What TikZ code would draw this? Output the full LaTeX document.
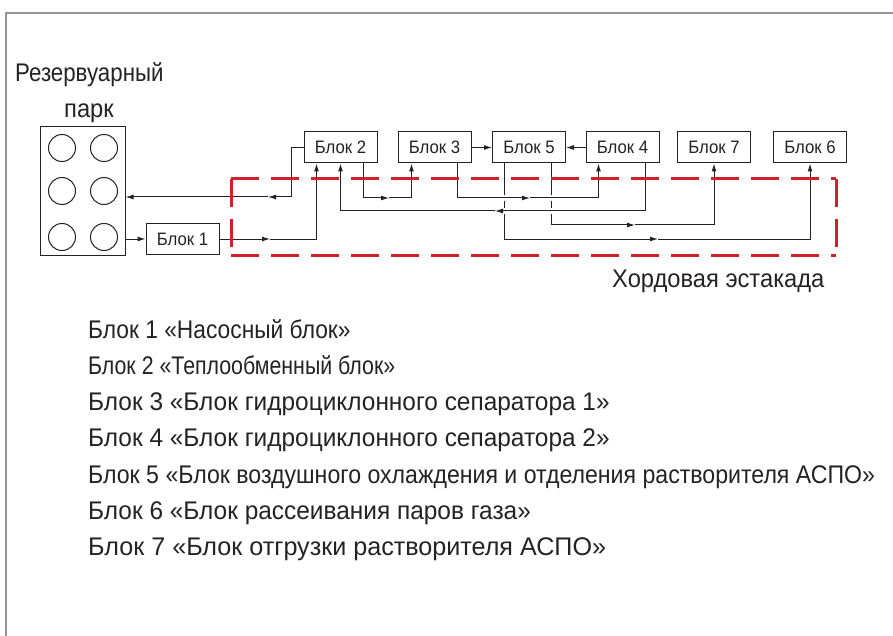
\documentclass[tikz,border=0pt]{standalone}
\usepackage{fontspec}
\setmainfont[FakeStretch=0.93]{Liberation Sans}
\usetikzlibrary{arrows.meta}
\pgfdeclarelayer{bg}\pgfsetlayers{bg,main}
\definecolor{ink}{RGB}{35,35,35}
\definecolor{trestle}{RGB}{210,32,40}
\definecolor{framegray}{RGB}{150,150,150}
\begin{document}
\begin{tikzpicture}[x=1pt,y=-1pt,
  blk/.style={draw=ink, line width=1pt, minimum width=73pt, minimum height=31pt, inner sep=0pt,
              font=\fontsize{18}{20}\selectfont, text=ink},
  tank/.style={circle, draw=ink, line width=1pt, minimum size=27pt, inner sep=0pt},
  wire/.style={line width=1pt, draw=ink},
  arr/.style={wire, -{Latex[length=8pt,width=5pt]}},
  bridge/.style={preaction={draw=white, line width=6pt}},
  lbl/.style={font=\fontsize{25.5}{30}\selectfont, text=ink, inner sep=0pt, anchor=base west},
  trest/.style={draw=trestle, line width=3pt, dash pattern=on 28pt off 12pt}
]
\useasboundingbox (0,0) rectangle (893,636);
% frame
\draw[framegray, line width=1.3pt] (6,636) -- (6,13) -- (893,13);

% tank park
\node[draw=ink, line width=1pt, minimum width=85pt, minimum height=128pt, inner sep=0pt] (park) at (82.5,191) {};
\node[tank] (t11) at (62,148) {};
\node[tank] (t12) at (104,148) {};
\node[tank] (t21) at (62,191) {};
\node[tank] (t22) at (104,191) {};
\node[tank] (t31) at (62,237) {};
\node[tank] (t32) at (104,237) {};
\node[lbl, xscale=0.94] (parkA) at (15,82) {Резервуарный};
\node[lbl, anchor=base] (parkB) at (89,118) {парк};

% blocks
\node[blk] (b1) at (182.5,239) {Блок 1};
\node[blk] (b2) at (340.5,147.5) {Блок 2};
\node[blk] (b3) at (434.5,147.5) {Блок 3};
\node[blk] (b5) at (529,147.5) {Блок 5};
\node[blk] (b4) at (622.5,147.5) {Блок 4};
\node[blk] (b7) at (714,147.5) {Блок 7};
\node[blk] (b6) at (810,147.5) {Блок 6};

\coordinate (m1) at (270,239);
\coordinate (m2) at (268,197);
\coordinate (m3) at (389,198);
\coordinate (m4) at (530,198);
\coordinate (m5) at (495,211);
\coordinate (m6) at (635,225);
\coordinate (m7) at (658,239);

\begin{pgfonlayer}{bg}
% Block 5 -> Block 7, Block 5 -> Block 6
\draw[arr] ([xshift=59pt]b5.south west) |- (m6);
\draw[arr] (m6) -| (b7.south);
\draw[arr] ([xshift=12pt]b5.south west) |- (m7);
\draw[arr] (m7) -| (b6.south);
% Block 3 -> Block 4 (bridged)
\draw[arr,bridge] ([xshift=60pt]b3.south west) |- (m4);
\draw[arr,bridge] (m4) -| ([xshift=13pt]b4.south west);
% Block 4 -> Block 2 (bridged)
\draw[arr,bridge] ([xshift=60pt]b4.south west) |- (m5);
\draw[arr,bridge] (m5) -| (b2.south);
% park -> Block 1
\draw[arr] (park.east |- b1.west) -- (b1.west);
% Block 1 -> Block 2
\draw[arr] (b1.east) -- (m1);
\draw[arr] (m1) -| ([xshift=13pt]b2.south west);
% Block 2 -> park
\draw[arr] (b2.west) -| (291,197) -- (m2);
\draw[arr] (m2) -- (park.east |- m2);
% Block 2 -> Block 3
\draw[arr] ([xshift=60pt]b2.south west) |- (m3);
\draw[arr] (m3) -| ([xshift=14pt]b3.south west);
% Block 3 -> Block 5, Block 4 -> Block 5
\draw[arr] (b3.east) -- (b5.west);
\draw[arr] (b4.west) -- (b5.east);
% trestle outline
\draw[trest] (231,179) -- (231,255);
\draw[trest] (836,179) -- (836,255);
\draw[trest] (231,179) -- (836,179);
\draw[trest] (231,255) -- (836,255);
\end{pgfonlayer}

\node[lbl] (trestle) at (612,287) {Хордовая эстакада};

% legend
\node[lbl, xscale=0.96] (l1) at (88,338) {Блок 1 «Насосный блок»};
\node[lbl, xscale=0.9] (l2) at (88,374.3) {Блок 2 «Теплообменный блок»};
\node[lbl, xscale=1.03] (l3) at (88,410.6) {Блок 3 «Блок гидроциклонного сепаратора 1»};
\node[lbl, xscale=1.03] (l4) at (88,446.9) {Блок 4 «Блок гидроциклонного сепаратора 2»};
\node[lbl, xscale=0.975] (l5) at (88,483.2) {Блок 5 «Блок воздушного охлаждения и отделения растворителя АСПО»};
\node[lbl, xscale=1.03] (l6) at (88,519.5) {Блок 6 «Блок рассеивания паров газа»};
\node[lbl, xscale=1.06] (l7) at (88,555.8) {Блок 7 «Блок отгрузки растворителя АСПО»};
\end{tikzpicture}
\end{document}
